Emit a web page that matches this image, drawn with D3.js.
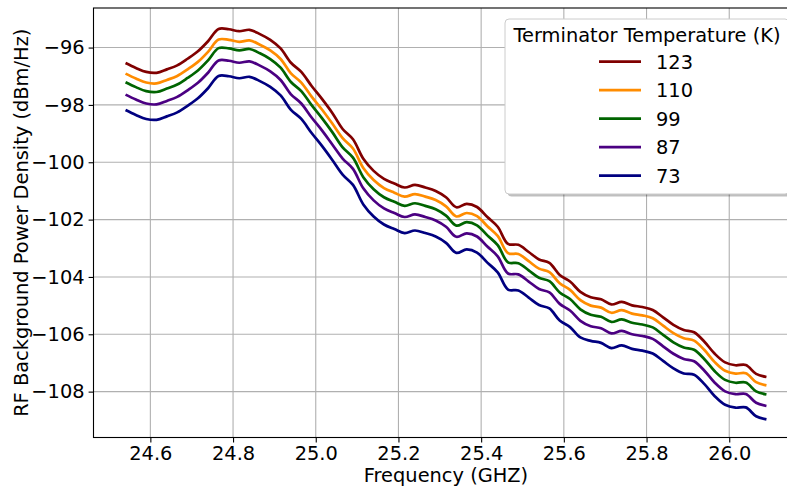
<!DOCTYPE html>
<html>
<head>
<meta charset="utf-8">
<script src="https://cdn.jsdelivr.net/npm/d3@7"></script>
<style>
  body { margin: 0; background: #fff; }
  svg { display: block; font-family: "DejaVu Sans", sans-serif; }
</style>
</head>
<body>
<svg id="chart" width="787" height="488"></svg>
<script>
// frequency samples (GHz)
var freq = [24.540, 24.565, 24.590, 24.615, 24.640, 24.665, 24.690, 24.715, 24.740, 24.765,
            24.790, 24.815, 24.840, 24.865, 24.890, 24.915, 24.940, 24.965, 24.990, 25.015,
            25.040, 25.065, 25.090, 25.115, 25.140, 25.165, 25.190, 25.215, 25.240, 25.265,
            25.290, 25.315, 25.340, 25.365, 25.390, 25.415, 25.440, 25.465, 25.490, 25.515,
            25.540, 25.565, 25.590, 25.615, 25.640, 25.665, 25.690, 25.715, 25.740, 25.765,
            25.790, 25.815, 25.840, 25.865, 25.890, 25.915, 25.940, 25.965, 25.990, 26.015,
            26.040, 26.065, 26.090];

// power density (dBm/Hz) per terminator temperature
var t123 = [-96.54, -96.71, -96.85, -96.88, -96.76, -96.62, -96.39, -96.13, -95.77, -95.35,
            -95.36, -95.43, -95.38, -95.53, -95.73, -96.03, -96.53, -96.85, -97.34, -97.79,
            -98.28, -98.84, -99.20, -99.88, -100.30, -100.58, -100.74, -100.88, -100.79, -100.88,
            -101.00, -101.22, -101.57, -101.45, -101.56, -101.91, -102.25, -102.85, -102.88, -103.13,
            -103.39, -103.51, -103.93, -104.16, -104.52, -104.71, -104.78, -104.96, -104.87, -104.99,
            -105.05, -105.15, -105.41, -105.67, -105.85, -105.93, -106.26, -106.68, -106.98, -107.08,
            -107.07, -107.38, -107.49];
var t110 = [-96.91, -97.08, -97.22, -97.25, -97.13, -96.99, -96.76, -96.50, -96.14, -95.72,
            -95.73, -95.80, -95.75, -95.90, -96.10, -96.40, -96.90, -97.22, -97.71, -98.16,
            -98.65, -99.16, -99.52, -100.20, -100.62, -100.90, -101.06, -101.20, -101.11, -101.20,
            -101.32, -101.54, -101.89, -101.77, -101.88, -102.23, -102.57, -103.17, -103.20, -103.45,
            -103.71, -103.83, -104.22, -104.45, -104.81, -105.00, -105.07, -105.25, -105.16, -105.28,
            -105.34, -105.44, -105.70, -105.96, -106.14, -106.22, -106.55, -106.97, -107.27, -107.37,
            -107.36, -107.67, -107.78];
var t99 = [-97.21, -97.38, -97.52, -97.55, -97.43, -97.29, -97.06, -96.80, -96.44, -96.02,
           -96.03, -96.10, -96.05, -96.20, -96.40, -96.70, -97.20, -97.52, -98.01, -98.46,
           -98.95, -99.48, -99.84, -100.52, -100.94, -101.22, -101.38, -101.52, -101.43, -101.52,
           -101.64, -101.86, -102.21, -102.09, -102.20, -102.55, -102.89, -103.49, -103.52, -103.77,
           -104.03, -104.15, -104.54, -104.77, -105.13, -105.32, -105.39, -105.57, -105.48, -105.60,
           -105.66, -105.76, -106.02, -106.28, -106.46, -106.54, -106.87, -107.29, -107.59, -107.69,
           -107.68, -107.99, -108.10];
var t87 = [-97.64, -97.81, -97.95, -97.98, -97.86, -97.72, -97.49, -97.23, -96.87, -96.45,
           -96.46, -96.53, -96.48, -96.63, -96.83, -97.13, -97.63, -97.95, -98.44, -98.89,
           -99.38, -99.87, -100.23, -100.91, -101.33, -101.61, -101.77, -101.91, -101.82, -101.91,
           -102.03, -102.25, -102.60, -102.48, -102.59, -102.94, -103.28, -103.88, -103.91, -104.16,
           -104.42, -104.54, -104.94, -105.17, -105.53, -105.72, -105.79, -105.97, -105.88, -106.00,
           -106.06, -106.16, -106.42, -106.68, -106.86, -106.94, -107.27, -107.69, -107.99, -108.09,
           -108.08, -108.39, -108.50];
var t73 = [-98.18, -98.35, -98.49, -98.52, -98.40, -98.26, -98.03, -97.77, -97.41, -96.99,
           -97.00, -97.07, -97.02, -97.17, -97.37, -97.67, -98.17, -98.49, -98.98, -99.43,
           -99.92, -100.43, -100.79, -101.47, -101.89, -102.17, -102.33, -102.47, -102.38, -102.47,
           -102.59, -102.81, -103.16, -103.04, -103.15, -103.50, -103.84, -104.44, -104.47, -104.72,
           -104.98, -105.10, -105.52, -105.75, -106.11, -106.23, -106.30, -106.48, -106.39, -106.51,
           -106.57, -106.67, -106.93, -107.19, -107.37, -107.41, -107.74, -108.16, -108.46, -108.56,
           -108.55, -108.86, -108.97];

var labels = ["123", "110", "99", "87", "73"];
var colors = ["#800000", "#ff8c00", "#006400", "#4b0082", "#000080"];
var xTicks = [24.6, 24.8, 25.0, 25.2, 25.4, 25.6, 25.8, 26.0];
var yTicks = [-108, -106, -104, -102, -100, -98, -96];

(function() {
  var series = [t123, t110, t99, t87, t73].map(function(vals, i) {
    return { name: labels[i], color: colors[i],
             points: vals.map(function(v, j) { return [freq[j], v]; }) };
  });

  var svg = d3.select("#chart");
  var fs = "19.4px";
  var pLeft = 93.5, pRight = 798.5, pTop = 8, pBottom = 437.5;

  var x = d3.scaleLinear().domain([24.4625, 26.1675]).range([pLeft, pRight]);
  var y = d3.scaleLinear().domain([-109.6, -94.62]).range([pBottom, pTop]);

  // grid
  var grid = svg.append("g").attr("stroke", "#b0b0b0").attr("stroke-width", 1.1);
  grid.selectAll(".gx").data(xTicks).enter().append("line")
      .attr("x1", d => x(d)).attr("x2", d => x(d))
      .attr("y1", pTop).attr("y2", pBottom);
  grid.selectAll(".gy").data(yTicks).enter().append("line")
      .attr("x1", pLeft).attr("x2", pRight)
      .attr("y1", d => y(d)).attr("y2", d => y(d));

  // curves
  var line = d3.line()
      .x(d => x(d[0]))
      .y(d => y(d[1]))
      .curve(d3.curveCatmullRom);

  svg.append("g").selectAll("path")
      .data(series.slice().reverse())
      .enter().append("path")
      .attr("d", d => line(d.points))
      .attr("fill", "none")
      .attr("stroke", d => d.color)
      .attr("stroke-width", 2.7)
      .attr("stroke-linejoin", "round");

  // axes
  var xAxis = svg.append("g")
      .attr("transform", "translate(0," + pBottom + ")")
      .call(d3.axisBottom(x).tickValues(xTicks).tickFormat(d3.format(".1f")).tickSize(4.9).tickPadding(4));
  var yAxis = svg.append("g")
      .attr("transform", "translate(" + pLeft + ",0)")
      .call(d3.axisLeft(y).tickValues(yTicks).tickFormat(d3.format("d")).tickSize(4.9).tickPadding(4));

  [xAxis, yAxis].forEach(function(a) {
    a.select(".domain").remove();
    a.selectAll(".tick line").attr("stroke", "#000").attr("stroke-width", 1.1);
    a.selectAll(".tick text").attr("fill", "#000").style("font-size", fs)
     .style("font-family", "DejaVu Sans");
  });

  // spines
  svg.append("rect")
      .attr("x", pLeft).attr("y", pTop)
      .attr("width", pRight - pLeft).attr("height", pBottom - pTop)
      .attr("fill", "none").attr("stroke", "#000").attr("stroke-width", 1.1);

  // axis labels
  svg.append("text")
      .attr("x", (pLeft + pRight) / 2).attr("y", 482)
      .attr("text-anchor", "middle")
      .style("font-size", fs)
      .text("Frequency (GHZ)");

  svg.append("text")
      .attr("transform", "translate(28," + ((pTop + pBottom) / 2) + ") rotate(-90)")
      .attr("text-anchor", "middle")
      .style("font-size", fs)
      .text("RF Background Power Density (dBm/Hz)");

  // legend
  var lg = svg.append("g");
  var lx = 505, ly = 19, lw = 284, lh = 175;
  lg.append("rect")
      .attr("x", lx + 2.5).attr("y", ly + 2.5).attr("width", lw).attr("height", lh)
      .attr("rx", 4).attr("fill", "#000").attr("opacity", 0.25);
  lg.append("rect")
      .attr("x", lx).attr("y", ly).attr("width", lw).attr("height", lh)
      .attr("rx", 4).attr("fill", "#fff").attr("stroke", "#cccccc").attr("stroke-width", 1);
  lg.append("text")
      .attr("x", lx + lw / 2).attr("y", 41.5)
      .attr("text-anchor", "middle")
      .style("font-size", fs)
      .text("Terminator Temperature (K)");

  var item = lg.selectAll(".item").data(series).enter().append("g")
      .attr("transform", (d, i) => "translate(0," + (61.7 + i * 28.5) + ")");
  item.append("line")
      .attr("x1", 599).attr("x2", 641)
      .attr("stroke", d => d.color).attr("stroke-width", 2.7);
  item.append("text")
      .attr("x", 656).attr("y", 6.8)
      .style("font-size", fs)
      .text(d => d.name);
})();
</script>
</body>
</html>
